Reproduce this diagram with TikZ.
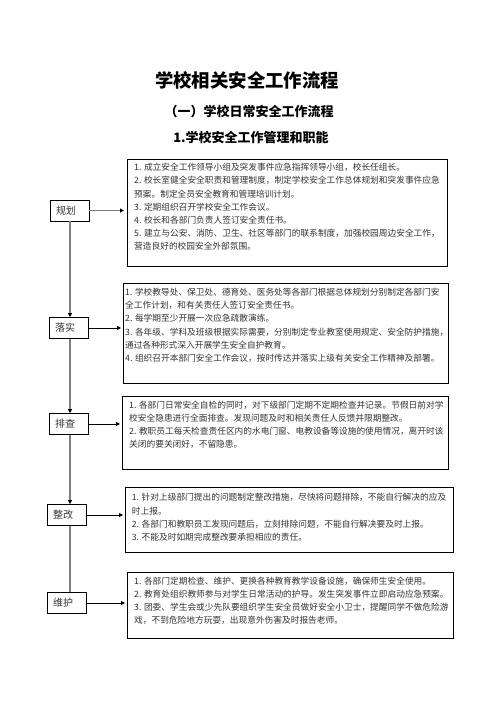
\documentclass[tikz,border=0pt]{standalone}
\usepackage{fontspec}
\setmainfont{Noto Sans CJK SC}
\usetikzlibrary{arrows.meta,calc}
\begin{document}
\begin{tikzpicture}[x=1pt,y=-1pt,
  bigbox/.style={draw=black, line width=1pt, inner sep=0pt, anchor=north west},
  body/.style={font=\fontsize{8.7}{13.2}\selectfont, text=black!80, align=left, anchor=north west, inner sep=0pt},
  lbl/.style={draw=black, line width=0.9pt, minimum width=39pt, minimum height=21pt, inner ysep=0pt, inner xsep=6pt, text width=27pt, align=left, font=\fontsize{10}{12}\selectfont, text=black!80},
  ttl/.style={font=\bfseries\fontsize{18.4}{20}\selectfont, inner sep=0pt},
  sub/.style={font=\bfseries\fontsize{13}{15}\selectfont, inner sep=0pt},
  flow/.style={draw=black!50, line width=1.8pt},
  thin/.style={draw=black, line width=0.9pt},
  tip/.style={-{Triangle[length=4pt,width=4pt,color=black]}},
]
\useasboundingbox (0,0) rectangle (496,702);
\fill[white] (0,0) rectangle (496,702);

\node[ttl] (title) at (247,80) {学校相关安全工作流程};
\node[sub] (subtitle) at (249,112) {（一）学校日常安全工作流程};
\node[sub] (section) at (251,138) {1.学校安全工作管理和职能};

\coordinate (vx) at (70,0);

% big boxes
\node[bigbox, minimum width=320pt, minimum height=107pt] (b1) at (127,159) {};
\node[bigbox, minimum width=325pt, minimum height=100pt] (b2) at (123,283) {};
\node[bigbox, minimum width=326pt, minimum height=73pt] (b3) at (122,396) {};
\node[bigbox, minimum width=328pt, minimum height=65pt] (b4) at (125,487) {};
\node[bigbox, minimum width=326pt, minimum height=66pt] (b5) at (127,572) {};

\node[body] (t1) at (134,163) {1. 成立安全工作领导小组及突发事件应急指挥领导小组，校长任组长。\\
2. 校长室健全安全职责和管理制度，制定学校安全工作总体规划和突发事件应急\\
预案。制定全员安全教育和管理培训计划。\\
3. 定期组织召开学校安全工作会议。\\
4. 校长和各部门负责人签订安全责任书。\\
5. 建立与公安、消防、卫生、社区等部门的联系制度，加强校园周边安全工作，\\
营造良好的校园安全外部氛围。};

\node[body] (t2) at (125,288) {1. 学校教导处、保卫处、德育处、医务处等各部门根据总体规划分别制定各部门安\\
全工作计划，和有关责任人签订安全责任书。\\
2. 每学期至少开展一次应急疏散演练。\\
3. 各年级、学科及班级根据实际需要，分别制定专业教室使用规定、安全防护措施，\\
通过各种形式深入开展学生安全自护教育。\\
4. 组织召开本部门安全工作会议，按时传达并落实上级有关安全工作精神及部署。};

\node[body] (t3) at (129,400.6) {1. 各部门日常安全自检的同时，对下级部门定期不定期检查并记录。节假日前对学\\
校安全隐患进行全面排查。发现问题及时和相关责任人反馈并限期整改。\\
2. 教职员工每天检查责任区内的水电门窗、电教设备等设施的使用情况，离开时该\\
关闭的要关闭好，不留隐患。};

\node[body] (t4) at (131.7,493.3) {1. 针对上级部门提出的问题制定整改措施，尽快将问题排除，不能自行解决的应及\\
时上报。\\
2. 各部门和教职员工发现问题后，立刻排除问题，不能自行解决要及时上报。\\
3. 不能及时如期完成整改要承担相应的责任。};

\node[body] (t5) at (134,576.6) {1. 各部门定期检查、维护、更换各种教育教学设备设施，确保师生安全使用。\\
2. 教育处组织教师参与对学生日常活动的护导。发生突发事件立即启动应急预案。\\
3. 团委、学生会或少先队要组织学生安全员做好安全小卫士，提醒同学不做危险游\\
戏，不到危险地方玩耍，出现意外伤害及时报告老师。};

% labels
\node[lbl] (l1) at (69.5,210.5) {规划};
\node[lbl] (l2) at (68.5,328) {落实};
\node[lbl] (l3) at (68.5,424) {排查};
\node[lbl] (l4) at (66.5,515) {整改};
\node[lbl] (l5) at (66.5,603) {维护};

% horizontal arrows
\draw[flow, tip, shorten >=3pt] (l1.east) -- (l1.east -| b1.west);
\draw[thin, tip, shorten >=2pt] (l2.east) -- (l2.east -| b2.west);
\draw[thin, tip, shorten >=2pt] (l3.east) -- (l3.east -| b3.west);
\draw[thin, tip, shorten >=2pt] (l4.east) -- (l4.east -| b4.west);
\draw[thin, tip, shorten >=2pt] (l5.east) -- (l5.east -| b5.west);

% vertical flow
\draw[flow, tip] (l1.south -| vx) -- (l2.north -| vx);
\draw[flow, tip] (l2.south -| vx) -- (l3.north -| vx);
\draw[flow, tip] (l3.south -| vx) -- (l4.north -| vx);
\draw[flow] (l4.south -| vx) -- (l5.north -| vx);
\end{tikzpicture}
\end{document}
